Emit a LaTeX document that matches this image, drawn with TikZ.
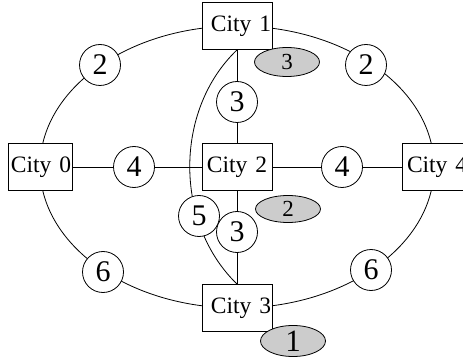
\documentclass[tikz,border=0pt]{standalone}
\usepackage{fontspec}
\setmainfont{Liberation Serif}
\usetikzlibrary{shapes.geometric,backgrounds}
\begin{document}
\begin{tikzpicture}[x=1pt,y=-1pt,
 city/.style={draw, fill=white, rectangle, minimum height=47pt, inner ysep=0pt, inner xsep=1pt, font=\rmfamily\fontsize{23.5}{24}\selectfont, line width=0.9pt},
 wt/.style={draw, fill=white, circle, minimum size=41pt, inner sep=0pt, font=\rmfamily\fontsize{30}{30}\selectfont, line width=0.8pt},
 tag/.style={draw, fill=gray!40, ellipse, minimum width=65pt, minimum height=29pt, inner sep=0pt, font=\rmfamily\fontsize{23}{23}\selectfont, line width=0.8pt},
 link/.style={line width=0.8pt}]
\useasboundingbox (0,0) rectangle (463,358);
\coordinate (ctr) at (237,167);
% cities
\node[city, text width=62pt, align=right] (c0) at (40,167) {City 0};
\node[city, text width=68pt, align=right] (c1) at (237,26) {City 1};
\node[city, text width=68pt, align=center] (c2) at (237,167) {City 2};
\node[city, text width=68pt, align=right] (c3) at (237,308) {City 3};
\node[city, text width=62pt, align=left] (c4) at (434,167) {\hspace*{4pt}City~4};
% weights
\node[wt] (w01) at (100,65) {2};
\node[wt] (w14) at (366,65) {2};
\node[wt] (w02) at (134,167) {4};
\node[wt] (w24) at (342,167) {4};
\node[wt] (w12) at (237,102) {3};
\node[wt] (w13) at (199,216) {5};
\node[wt] (w23) at (237,232) {3};
\node[wt] (w03) at (103,272) {6};
\node[wt] (w34) at (371,270) {6};
% tags
\node[tag] (t1) at (287,62) {3};
\node[tag, minimum height=27pt] (t2) at (288,209) {2};
\node[tag, minimum height=31pt, font=\rmfamily\fontsize{31}{31}\selectfont] (t3) at (293,341) {1};
% connectors
\begin{scope}[on background layer]
\draw[link] (ctr) ellipse[x radius=197, y radius=141];
\draw[link] (c0) -- (c2);
\draw[link] (c2) -- (c4);
\draw[link] (c1) -- (c2);
\draw[link] (c2) -- (c3);
\draw[link] (c1.south) .. controls (174,110) and (174,223) .. (c3.north);
\end{scope}
\end{tikzpicture}
\end{document}
